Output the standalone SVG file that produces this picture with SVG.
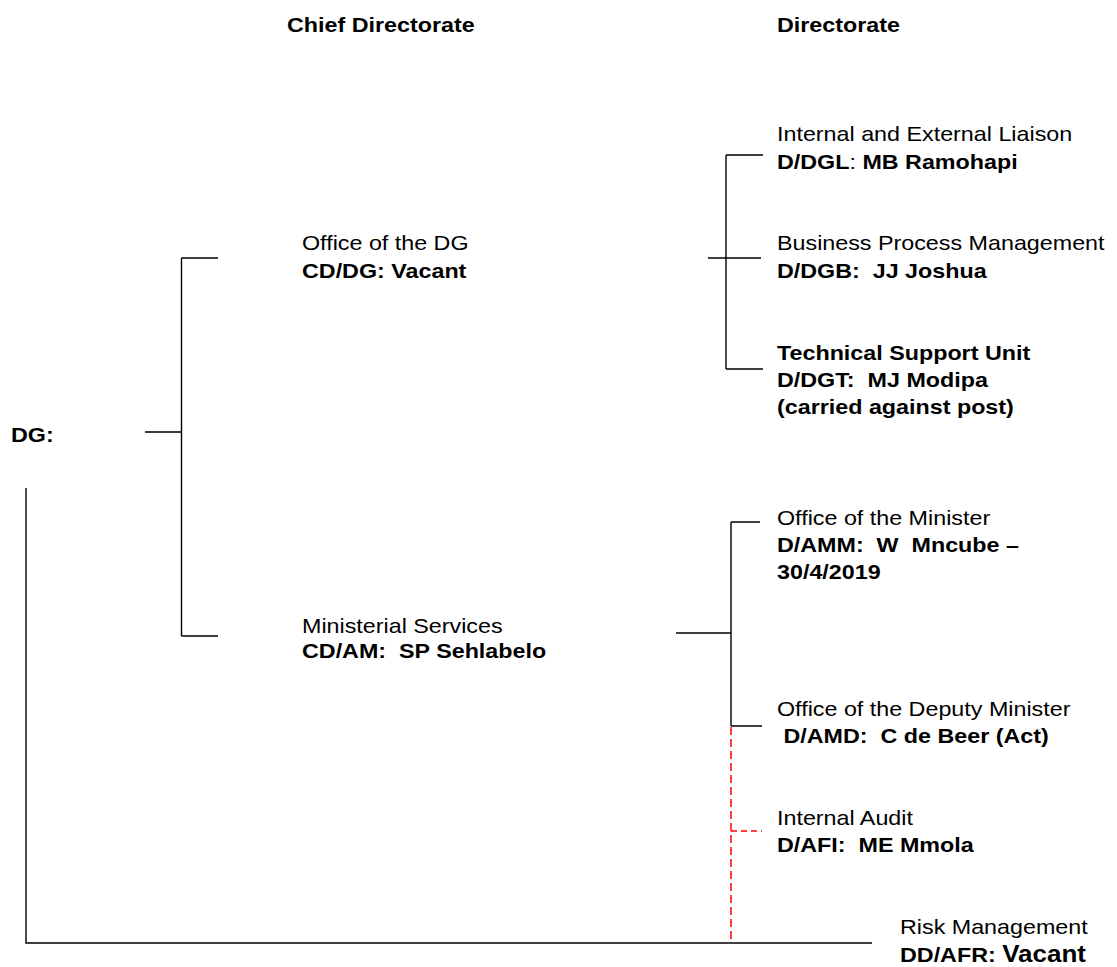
<svg xmlns="http://www.w3.org/2000/svg" width="1117" height="967" viewBox="0 0 1117 967">
  <style>
    text { font-family: "Liberation Sans", Arial, sans-serif; font-size: 23.3px; fill: #000; white-space: pre; }
    .b { font-weight: bold; }
    .n { font-weight: normal; }
    .big { font-size: 26px; }
    .ln { stroke: #000; stroke-width: 1.4; fill: none; }
    .dash { stroke: #ff0000; stroke-width: 1.5; fill: none; stroke-dasharray: 8 4; }
  </style>

  <!-- column headings -->
  <g id="headings">
    <text class="b" transform="translate(287 32) scale(1 0.9)">Chief Directorate</text>
    <text class="b" transform="translate(777 32) scale(1 0.9)">Directorate</text>
  </g>

  <!-- connectors -->
  <g id="connectors">
    <!-- DG to chief directorates -->
    <path class="ln" d="M145 432 H181.5 M181.5 258 V636 M181.5 258 H218 M181.5 636 H218"/>
    <!-- DG to risk management -->
    <path class="ln" d="M26 488 V943 H872"/>
    <!-- office of the DG directorates -->
    <path class="ln" d="M726 155 V369 M726 155 H763 M708 258 H761 M726 369 H763"/>
    <!-- ministerial services directorates -->
    <path class="ln" d="M731 522 V726 M731 522 H760 M676 633 H731 M731 726 H762"/>
    <!-- dotted reporting line: internal audit -->
    <path class="dash" d="M731 727 V943"/>
    <path class="dash" d="M731 831 H762" style="stroke-dasharray: 6 4"/>
  </g>

  <g id="dg">
    <text class="b" transform="translate(11 442) scale(1 0.9)">DG:</text>
  </g>

  <g id="office-dg">
    <text transform="translate(302 250) scale(1 0.9)">Office of the DG</text>
    <text class="b" transform="translate(302 278) scale(1 0.9)">CD/DG: Vacant</text>
  </g>

  <g id="ministerial-services">
    <text transform="translate(302 633) scale(1 0.9)">Ministerial Services</text>
    <text class="b" transform="translate(302 658) scale(1 0.9)">CD/AM:  SP Sehlabelo</text>
  </g>

  <g id="liaison">
    <text transform="translate(777 141) scale(1 0.9)">Internal and External Liaison</text>
    <text class="b" transform="translate(777 169) scale(1 0.9)">D/DGL<tspan class="n">:</tspan> MB Ramohapi</text>
  </g>

  <g id="business-process">
    <text transform="translate(777 250) scale(1 0.9)">Business Process Management</text>
    <text class="b" transform="translate(777 278) scale(1 0.9)">D/DGB:  JJ Joshua</text>
  </g>

  <g id="technical-support">
    <text class="b" transform="translate(777 360) scale(1 0.9)">Technical Support Unit</text>
    <text class="b" transform="translate(777 387) scale(1 0.9)">D/DGT:  MJ Modipa</text>
    <text class="b" transform="translate(777 414) scale(1 0.9)">(carried against post)</text>
  </g>

  <g id="office-minister">
    <text transform="translate(777 525) scale(1 0.9)">Office of the Minister</text>
    <text class="b" transform="translate(777 552) scale(1 0.9)">D/AMM:  W  Mncube –</text>
    <text class="b" transform="translate(777 579) scale(1 0.9)">30/4/2019</text>
  </g>

  <g id="office-deputy-minister">
    <text transform="translate(777 716) scale(1 0.9)">Office of the Deputy Minister</text>
    <text class="b" transform="translate(777 743) scale(1 0.9)"> D/AMD:  C de Beer (Act)</text>
  </g>

  <g id="internal-audit">
    <text transform="translate(777 825) scale(1 0.9)">Internal Audit</text>
    <text class="b" transform="translate(777 852) scale(1 0.9)">D/AFI:  ME Mmola</text>
  </g>

  <g id="risk-management">
    <text transform="translate(900 934) scale(1 0.9)">Risk Management</text>
    <text class="b" transform="translate(900 962) scale(1 0.9)">DD/AFR: <tspan class="big">Vacant</tspan></text>
  </g>
</svg>
